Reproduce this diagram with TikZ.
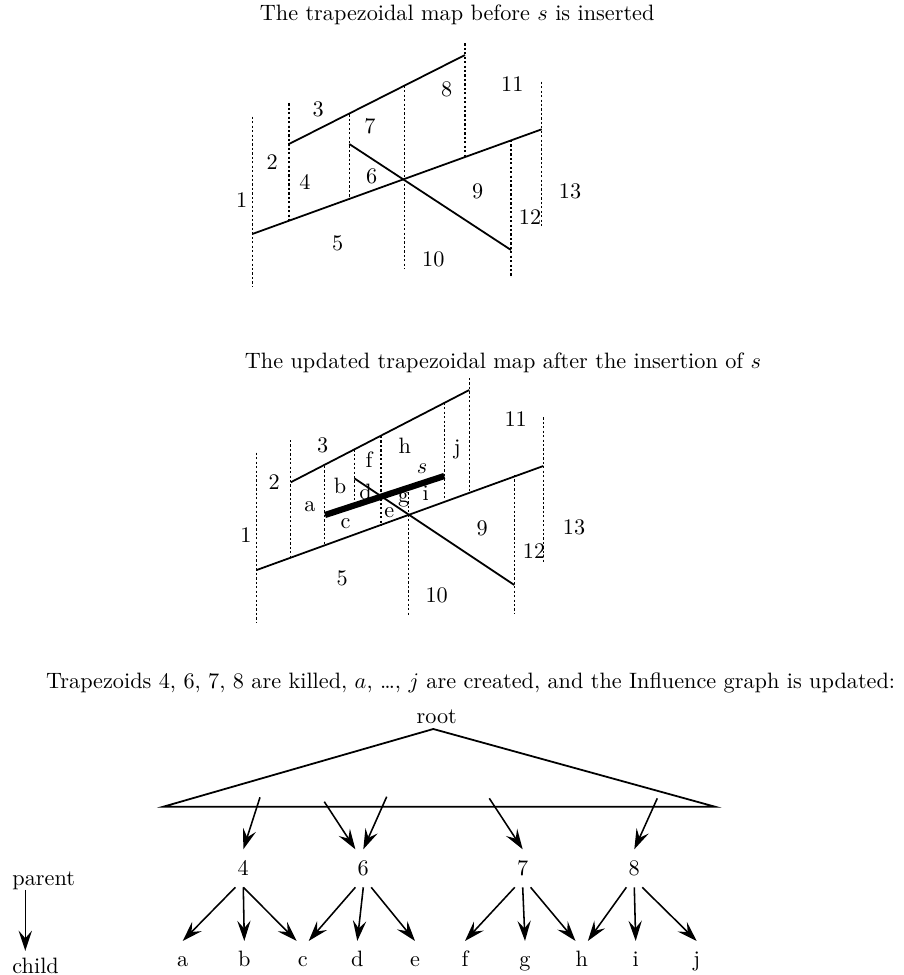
\documentclass[tikz,border=0pt]{standalone}
\usepackage{amsmath}
\usetikzlibrary{arrows.meta}

\begin{document}
\begin{tikzpicture}[x=0.158mm,y=-0.158mm,
  wall/.style={line width=0.5pt,dash pattern=on 1pt off 1pt},
  seg/.style={line width=0.8pt},
  sseg/.style={line width=2.8pt},
  arr/.style={line width=0.7pt,-{Stealth[length=3.2mm,width=2.1mm,inset=1.2mm]}},
  par/.style={inner sep=0pt,outer sep=0pt,minimum width=2.5mm,minimum height=6mm,text height=6.5pt,text depth=0pt},
  kid/.style={inner sep=0pt,outer sep=0pt,minimum width=1.9mm,minimum height=5.7mm,text height=6.5pt,text depth=0pt}]
  \useasboundingbox (0,0) rectangle (904,975);

  % map before s
  \node[anchor=base west] (ttl1) at (252,20) {The trapezoidal map before $s$ is inserted};
  \draw[wall] (252.3,116.7) -- (252.3,286.7);
  \draw[wall] (289,103.3) -- (289,220.7);
  \draw[wall] (349.3,114.3) -- (349.3,200);
  \draw[wall] (404.3,85.7) -- (404.3,268.3);
  \draw[wall] (465,43.3) -- (465,157);
  \draw[wall] (511,140) -- (511,276.7);
  \draw[wall] (541.7,81.7) -- (541.7,228.3);
  \draw[seg] (289,144) -- (465,55);
  \draw[seg] (252.3,234) -- (541.7,129.3);
  \draw[seg] (349.3,144) -- (511,250);
  \node (m1) at (241.7,200) {1};
  \node (m2) at (272.3,161.7) {2};
  \node (m3) at (318.3,109.3) {3};
  \node (m4) at (305,182.3) {4};
  \node (m5) at (337.7,243.3) {5};
  \node (m6) at (371.7,176.7) {6};
  \node (m7) at (370,126) {7};
  \node (m8) at (446.7,89.3) {8};
  \node (m9) at (477.7,191.7) {9};
  \node (m10) at (433.3,259.3) {10};
  \node (m11) at (512.3,84) {11};
  \node (m12) at (530,216.7) {12};
  \node (m13) at (570,191.7) {13};

  % map after s
  \node[anchor=base west] (ttl2) at (237,368) {The updated trapezoidal map after the insertion of $s$};
  \draw[wall] (256.7,452.7) -- (256.7,623.3);
  \draw[wall] (290.7,440) -- (290.7,556.7);
  \draw[wall] (324.3,466) -- (324.3,545.5);
  \draw[wall] (354.3,449.3) -- (354.3,505);
  \draw[wall] (381,436) -- (381,525);
  \draw[wall] (408.3,488) -- (408.3,616.7);
  \draw[wall] (444.3,402.7) -- (444.3,502);
  \draw[wall] (469.3,378) -- (469.3,493);
  \draw[wall] (514.3,475) -- (514.3,613.3);
  \draw[wall] (543.3,417.3) -- (543.3,563.3);
  \draw[seg] (290.7,482.3) -- (469.3,390);
  \draw[seg] (256.7,570) -- (543.3,466);
  \draw[seg] (354.3,478.3) -- (514.3,585);
  \draw[sseg] (325,515) -- (444.3,476);
  \node (u1) at (246,535) {1};
  \node (u2) at (274.3,481.7) {2};
  \node (u3) at (322.7,445) {3};
  \node (ua) at (310,506.7) {a};
  \node (ub) at (340,485.5) {b};
  \node (uc) at (345.5,523.3) {c};
  \node (ud) at (365.5,491.7) {d};
  \node (ue) at (389.3,513) {e};
  \node (uf) at (369,459.5) {f};
  \node (ug) at (403.7,500) {g};
  \node (uh) at (404.7,445.5) {h};
  \node (ui) at (425.7,493.3) {i};
  \node (us) at (422,468.3) {$s$};
  \node (uj) at (457.2,449) {j};
  \node (u5) at (342.3,578.3) {5};
  \node (u9) at (482.3,528.3) {9};
  \node (u10) at (436.7,595) {10};
  \node (u11) at (515.7,419.3) {11};
  \node (u12) at (534,550.7) {12};
  \node (u13) at (574,527.3) {13};

  % influence graph
  \node[anchor=base east] (ttl3) at (903,688) {Trapezoids 4, 6, 7, 8 are killed, $a$, \ldots, $j$ are created, and the Influence graph is updated:};
  \node (root) at (436.7,716.7) {root};
  \coordinate (apex) at (433.3,729);
  \draw[seg] (163.3,806.7) -- (apex) -- (715,806.7) -- cycle;
  \coordinate (t4) at (260,797.3);
  \coordinate (t6a) at (324.3,801.7);
  \coordinate (t6b) at (386.7,796.7);
  \coordinate (t7) at (489.3,798.3);
  \coordinate (t8) at (657.3,798.3);
  \node[par] (p4) at (243.3,868.3) {4};
  \node[par] (p6) at (363.3,868.3) {6};
  \node[par] (p7) at (522.7,868.3) {7};
  \node[par] (p8) at (634.3,868.3) {8};
  \node[kid] (ca) at (182.7,959) {a};
  \node[kid] (cb) at (244.3,959) {b};
  \node[kid] (cc) at (302.7,959) {c};
  \node[kid] (cd) at (357.3,959) {d};
  \node[kid] (ce) at (415,959) {e};
  \node[kid] (cf) at (465,959) {f};
  \node[kid] (cg) at (525,959) {g};
  \node[kid] (ch) at (581.7,959) {h};
  \node[kid] (ci) at (635.7,959) {i};
  \node[kid] (cj) at (696.7,959) {j};
  \draw[arr] (t4) -- (p4.north);
  \draw[arr] (t6a) -- (p6.north west);
  \draw[arr] (t6b) -- (p6.north);
  \draw[arr] (t7) -- (p7.north);
  \draw[arr] (t8) -- (p8.north);
  \draw[arr] (p4.south west) -- (ca.north);
  \draw[arr] (p4.south) -- (cb.north);
  \draw[arr] (p4.south) -- (cc.north west);
  \draw[arr] (p6.south west) -- (cc.north east);
  \draw[arr] (p6.south) -- (cd.north);
  \draw[arr] (p6.south east) -- (ce.north);
  \draw[arr] (p7.south west) -- (cf.north);
  \draw[arr] (p7.south) -- (cg.north);
  \draw[arr] (p7.south east) -- (ch.north west);
  \draw[arr] (p8.south west) -- (ch.north east);
  \draw[arr] (p8.south) -- (ci.north);
  \draw[arr] (p8.south east) -- (cj.north);
  \node[anchor=west,inner sep=0pt] (lp) at (12,880.5) {parent};
  \node[anchor=west,inner sep=0pt] (lc) at (12,965.5) {child};
  \draw[arr] ([xshift=2.1mm]lp.south west) -- ([xshift=2.1mm,yshift=1mm]lc.north west);
\end{tikzpicture}
\end{document}
